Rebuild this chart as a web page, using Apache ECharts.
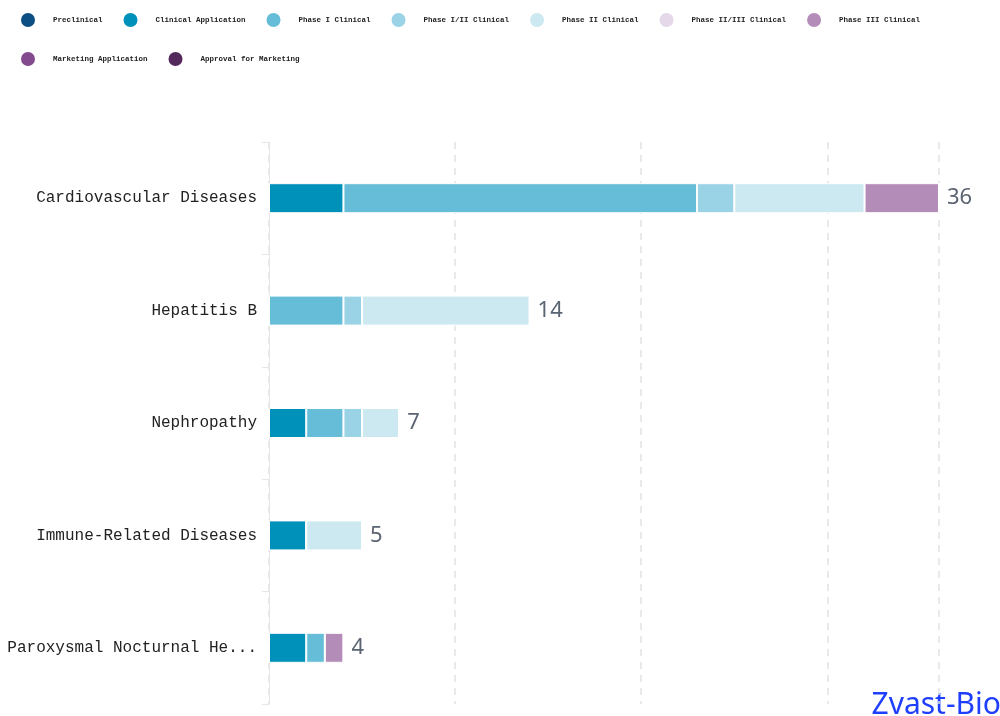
<!DOCTYPE html>
<html lang="en">
<head>
    <meta charset="UTF-8">
    <title>Pipeline by indication</title>
    <style>
        html, body { margin: 0; padding: 0; background: #fff; }
        #chart { width: 1000px; height: 716px; }
    </style>
</head>
<body>
    <div id="chart"></div>
</body>
<script src="https://cdn.jsdelivr.net/npm/echarts@6/dist/echarts.min.js"></script>
<script>
    // indications, top to bottom
    let categories = ['Cardiovascular Diseases', 'Hepatitis B', 'Nephropathy', 'Immune-Related Diseases', 'Paroxysmal Nocturnal Hemoglobinuria'];

    let phases = ['Preclinical', 'Clinical Application', 'Phase I Clinical', 'Phase I/II Clinical', 'Phase II Clinical',
        'Phase II/III Clinical', 'Phase III Clinical', 'Marketing Application', 'Approval for Marketing'];

    let preclinical = [0, 0, 0, 0, 0];
    let clinicalApp = [4, 0, 2, 2, 2];
    let phase1 = [19, 4, 2, 0, 1];
    let phase12 = [2, 1, 1, 0, 0];
    let phase2 = [7, 9, 2, 3, 0];
    let phase23 = [0, 0, 0, 0, 0];
    let phase3 = [4, 0, 0, 0, 1];
    let marketingApp = [0, 0, 0, 0, 0];
    let approval = [0, 0, 0, 0, 0];

    let totals = [36, 14, 7, 5, 4];

    let colors = ['#0d4f82', '#0091bb', '#66bdd7', '#9ad3e5', '#cce9f1', '#e5d9e9', '#b48cb8', '#834a8e', '#53295c'];

    let values = [preclinical, clinicalApp, phase1, phase12, phase2, phase23, phase3, marketingApp, approval];

    var myChart = echarts.init(document.getElementById('chart'));

    let series = phases.map((name, i) => ({
        name: name,
        type: 'bar',
        stack: 'all',
        barWidth: 30,
        itemStyle: { color: colors[i], borderColor: '#fff', borderWidth: 1 },
        data: values[i]
    }));

    // invisible bar only used to print the total at the end of each row
    series.push({
        name: 'total',
        type: 'bar',
        stack: 'all',
        barWidth: 30,
        itemStyle: { color: 'transparent' },
        label: {
            show: true,
            position: 'right',
            distance: 8,
            color: '#5b6472',
            fontSize: 22,
            fontFamily: 'Noto Sans',
            formatter: (p) => totals[p.dataIndex]
        },
        data: [0, 0, 0, 0, 0]
    });

    myChart.setOption({
        animation: false,
        color: colors,
        legend: {
            data: phases,
            left: 14,
            right: 10,
            top: 5,
            icon: 'circle',
            itemWidth: 16,
            itemHeight: 16,
            itemGap: 19,
            textStyle: {
                fontSize: 7.5,
                fontFamily: 'Liberation Mono',
                fontWeight: 'bold',
                color: '#222',
                lineHeight: 20,
                padding: [0, 0, 0, 12]
            }
        },
        grid: {
            left: 269,
            right: 61,
            top: 142,
            height: 562,
            containLabel: false,
            outerBoundsMode: 'none'
        },
        xAxis: {
            type: 'value',
            min: 0,
            max: 36,
            interval: 10,
            axisLine: { show: false },
            axisTick: { show: false },
            axisLabel: { show: false },
            splitLine: {
                show: true,
                lineStyle: { color: '#e2e2e2', width: 1.5, type: [7, 6] }
            }
        },
        yAxis: {
            type: 'category',
            inverse: true,
            data: categories,
            axisLine: { show: true, lineStyle: { color: '#e6e6e6', width: 1 } },
            axisTick: { show: true, length: 7, lineStyle: { color: '#e6e6e6' } },
            axisLabel: {
                margin: 12,
                fontSize: 16,
                fontFamily: 'Liberation Mono',
                color: '#222',
                width: 257,
                overflow: 'truncate'
            }
        },
        graphic: [{
            type: 'text',
            right: -1,
            bottom: -4,
            style: {
                text: 'Zvast-Bio',
                fontSize: 30,
                fontFamily: 'Noto Sans',
                fill: '#1f3fff'
            }
        }],
        series: series
    });
</script>
</html>
